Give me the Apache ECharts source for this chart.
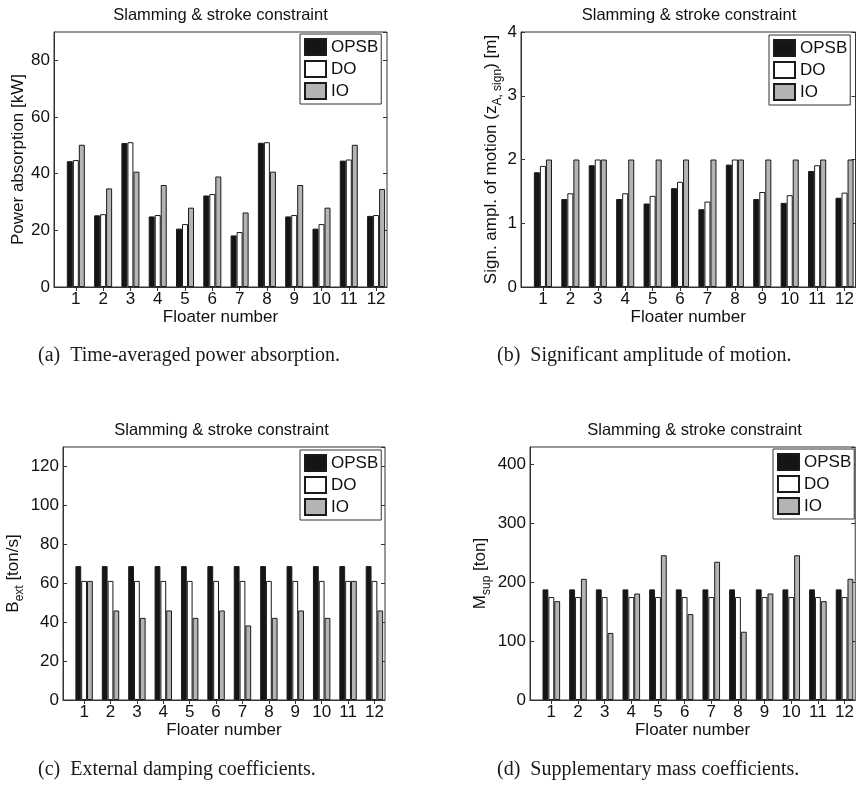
<!DOCTYPE html>
<html><head><meta charset="utf-8">
<script src="https://cdn.jsdelivr.net/npm/echarts@6/dist/echarts.min.js"></script>
<style>html,body{margin:0;padding:0;background:#fff}#c{width:857px;height:801px}</style>
</head><body><div id="c"></div>
<script>
// ---- data ----
const floaters = [1, 2, 3, 4, 5, 6, 7, 8, 9, 10, 11, 12];
const seriesNames = ['OPSB', 'DO', 'IO'];

// (a) Time-averaged power absorption [kW]
const powerOPSB = [44.4, 25.3, 50.8, 24.9, 20.6, 32.3, 18.2, 50.9, 24.9, 20.6, 44.6, 25.1];
const powerDO   = [44.8, 25.7, 51.1, 25.4, 22.2, 32.8, 19.4, 51.1, 25.4, 22.2, 45.0, 25.4];
const powerIO   = [50.2, 34.8, 40.7, 36.0, 28.0, 39.0, 26.3, 40.7, 36.0, 28.0, 50.2, 34.6];

// (b) Significant amplitude of motion [m]
const motionOPSB = [1.80, 1.38, 1.91, 1.38, 1.31, 1.55, 1.22, 1.92, 1.38, 1.32, 1.82, 1.40];
const motionDO   = [1.90, 1.47, 2.00, 1.47, 1.43, 1.65, 1.34, 2.00, 1.49, 1.44, 1.91, 1.48];
const motionIO   = [2.00, 2.00, 2.00, 2.00, 2.00, 2.00, 2.00, 2.00, 2.00, 2.00, 2.00, 2.00];

// (c) External damping coefficients [ton/s]
const dampOPSB = [68.8, 68.8, 68.8, 68.8, 68.8, 68.8, 68.8, 68.8, 68.8, 68.8, 68.8, 68.8];
const dampDO   = [61.2, 61.2, 61.2, 61.2, 61.2, 61.2, 61.2, 61.2, 61.2, 61.2, 61.2, 61.2];
const dampIO   = [61.2, 46.0, 42.2, 46.0, 42.2, 46.0, 38.3, 42.2, 46.0, 42.2, 61.2, 46.0];

// (d) Supplementary mass coefficients [ton]
const massOPSB = [188, 188, 188, 188, 188, 188, 188, 188, 188, 188, 188, 188];
const massDO   = [175, 175, 175, 175, 175, 175, 175, 175, 175, 175, 175, 175];
const massIO   = [168, 206, 114, 181, 246, 146, 235, 116, 181, 246, 168, 206];

// axis ranges
const yMaxes = [90, 4, 130, 430];
const yIntervals = [20, 1, 20, 100];

const titleText = 'Slamming & stroke constraint';
const xName = 'Floater number';
const yNames = [
  'Power absorption [kW]',
  'Sign. ampl. of motion (z{sub|A, sign}) [m]',
  'B{sub|ext} [ton/s]',
  'M{sub|sup} [ton]'
];
const captions = [
  '(a)  Time-averaged power absorption.',
  '(b)  Significant amplitude of motion.',
  '(c)  External damping coefficients.',
  '(d)  Supplementary mass coefficients.'
];

// ---- layout / style ----
const FONT = '"Liberation Sans", Arial, Helvetica, sans-serif';
const SERIF = '"Liberation Serif", "Times New Roman", serif';
const TXT = '#111';
const LINE = '#333';
const FS = 17;
const colors = ['#151515', '#ffffff', '#b4b4b4'];

const layouts = [
  {grid: {left: 54, top: 32, width: 333, height: 255}, nameGap: 22, legend: {left: 300, top: 34}, cap: {x: 38, y: 356}},
  {grid: {left: 521, top: 32, width: 336, height: 255}, nameGap: 12, legend: {left: 769, top: 35}, cap: {x: 497, y: 356}},
  {grid: {left: 58, top: 447, width: 327, height: 253}, nameGap: 37, legend: {left: 300, top: 450}, cap: {x: 38, y: 770}},
  {grid: {left: 530, top: 447, width: 329, height: 253}, nameGap: 37, legend: {left: 773, top: 449}, cap: {x: 497, y: 770}}
];
const panelData = [
  [powerOPSB, powerDO, powerIO],
  [motionOPSB, motionDO, motionIO],
  [dampOPSB, dampDO, dampIO],
  [massOPSB, massDO, massIO]
];

const grid = [], xAxis = [], yAxis = [], series = [], legend = [], graphic = [];

layouts.forEach((L, i) => {
  grid.push(Object.assign({show: true, borderColor: LINE, borderWidth: 1, backgroundColor: '#fff'}, L.grid));

  const tick = {show: true, inside: true, length: 4, customValues: floaters, lineStyle: {color: LINE}};
  xAxis.push({
    type: 'value', gridIndex: i, position: 'bottom', min: 0.2, max: 12.4,
    splitLine: {show: false},
    axisLine: {show: true, onZero: false, lineStyle: {color: LINE}},
    axisTick: tick,
    axisLabel: {customValues: floaters, fontSize: FS, color: TXT, margin: 4, fontFamily: FONT},
    name: xName, nameLocation: 'middle', nameGap: 22,
    nameTextStyle: {fontSize: FS, color: TXT, fontFamily: FONT}
  });
  xAxis.push({
    type: 'value', gridIndex: i, position: 'top', min: 0.2, max: 12.4,
    splitLine: {show: false},
    axisLine: {show: false},
    axisTick: tick,
    axisLabel: {show: false}
  });

  const yTick = {show: true, inside: true, length: 4, lineStyle: {color: LINE}};
  yAxis.push({
    type: 'value', gridIndex: i, position: 'left', min: 0, max: yMaxes[i], interval: yIntervals[i],
    splitLine: {show: false},
    axisLine: {show: true, onZero: false, lineStyle: {color: LINE}},
    axisTick: yTick,
    axisLabel: {fontSize: FS, color: TXT, margin: 4, fontFamily: FONT, showMaxLabel: i === 1},
    name: yNames[i], nameLocation: 'middle', nameRotate: 90, nameGap: L.nameGap,
    nameTextStyle: {
      fontSize: FS, color: TXT, fontFamily: FONT, lineHeight: i === 0 ? 17 : 25,
      rich: {sub: {fontSize: 12, lineHeight: 12, verticalAlign: 'bottom', color: TXT, fontFamily: FONT}}
    }
  });
  yAxis.push({
    type: 'value', gridIndex: i, position: 'right', min: 0, max: yMaxes[i], interval: yIntervals[i],
    splitLine: {show: false},
    axisLine: {show: false},
    axisTick: yTick,
    axisLabel: {show: false}
  });

  panelData[i].forEach((vals, k) => {
    series.push({
      type: 'bar', name: seriesNames[k],
      xAxisIndex: 2 * i, yAxisIndex: 2 * i,
      data: floaters.map((f, j) => [f, vals[j]]),
      barGap: '0%', barCategoryGap: '34%',
      itemStyle: {color: colors[k], borderColor: '#1a1a1a', borderWidth: 1},
      emphasis: {disabled: true}
    });
  });

  legend.push({
    data: seriesNames, orient: 'vertical', left: L.legend.left, top: L.legend.top,
    padding: [4, 3, 4, 4], itemWidth: 21, itemHeight: 16, itemGap: 4, icon: 'rect',
    borderColor: LINE, borderWidth: 1, backgroundColor: '#fff', selectedMode: false,
    textStyle: {fontSize: FS, color: TXT, fontFamily: FONT}
  });

  graphic.push({
    type: 'text', x: L.grid.left + L.grid.width / 2, y: L.grid.top - 17,
    style: {text: titleText, fontSize: 16.5, fill: TXT, fontFamily: FONT, align: 'center', verticalAlign: 'middle'}
  });
  graphic.push({
    type: 'text', x: L.cap.x, y: L.cap.y,
    style: {text: captions[i], fontSize: 20, fill: '#1a1a1a', fontFamily: SERIF, align: 'left', verticalAlign: 'middle'}
  });
});

const chart = echarts.init(document.getElementById('c'), null, {renderer: 'canvas'});
chart.setOption({
  animation: false,
  backgroundColor: '#fff',
  grid, xAxis, yAxis, series, legend, graphic
});
</script>
</body></html>
